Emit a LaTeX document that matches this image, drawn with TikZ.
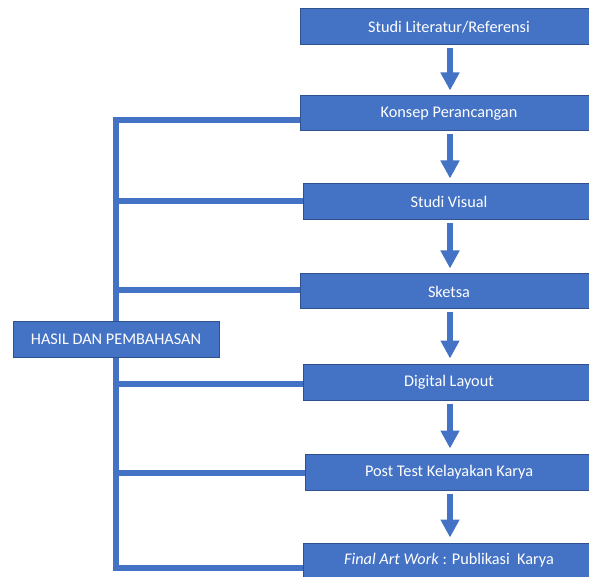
\documentclass[tikz,border=0pt]{standalone}
\usepackage{fontspec}
\setmainfont{Carlito}
\usetikzlibrary{arrows.meta}
\definecolor{officeblue}{HTML}{4472C4}
\definecolor{officeborder}{HTML}{2F528F}
\tikzset{
  stepbox/.style={rectangle, fill=officeblue, draw=officeborder, line width=0.75pt,
    text=white, font=\fontsize{12.2}{14}\selectfont, inner sep=0pt, anchor=center},
  bracketline/.style={draw=officeblue, line width=4.5pt, line join=miter},
  flowarrow/.style={draw=officeblue, line width=4.5pt,
    -{Triangle[width=13.5pt, length=13.5pt]}, fill=officeblue}
}
\begin{document}
\begin{tikzpicture}[x=0.75pt, y=-0.75pt]
\clip (0,0) rectangle (589,577);
\fill[white] (0,0) rectangle (589,577);
% flow boxes
\node[stepbox, minimum width=223.5pt, minimum height=27pt]    (b1) at (449,27)    {Studi Literatur/Referensi};
\node[stepbox, minimum width=223.5pt, minimum height=26.25pt] (b2) at (449,113.5) {Konsep Perancangan};
\node[stepbox, minimum width=219pt,   minimum height=27pt]    (b3) at (449,202)   {Studi Visual};
\node[stepbox, minimum width=223.5pt, minimum height=26.25pt] (b4) at (449,291.5) {Sketsa};
\node[stepbox, minimum width=219pt,   minimum height=27pt]    (b5) at (449,382)   {Digital Layout};
\node[stepbox, minimum width=216pt,   minimum height=27pt]    (b6) at (449,472)   {Post Test Kelayakan Karya};
\node[stepbox, minimum width=219pt,   minimum height=26.25pt] (b7) at (449,560.5) {\textit{Final Art Work} : Publikasi\ \ Karya};
% bracket coordinates
\coordinate (h2) at (116,120);
\coordinate (h3) at (116,201);
\coordinate (h4) at (116,290.5);
\coordinate (h5) at (116,384);
\coordinate (h6) at (116,473);
\coordinate (h7) at (116,568);
\draw[bracketline] (b2.west |- h2) -- (h2) -- (h7) -- (b7.west |- h7);
\draw[bracketline] (h3) -- (b3.west |- h3);
\draw[bracketline] (h4) -- (b4.west |- h4);
\draw[bracketline] (h5) -- (b5.west |- h5);
\draw[bracketline] (h6) -- (b6.west |- h6);
% left box
\node[stepbox, minimum width=154.5pt, minimum height=26.25pt] (hasil) at (116,339.5) {HASIL DAN PEMBAHASAN};
% arrows
\draw[flowarrow] ([shift={(1,3)}]b1.south) -- ([shift={(1,-5)}]b2.north);
\draw[flowarrow] ([shift={(1,3)}]b2.south) -- ([shift={(1,-5)}]b3.north);
\draw[flowarrow] ([shift={(1,3)}]b3.south) -- ([shift={(1,-5)}]b4.north);
\draw[flowarrow] ([shift={(1,3)}]b4.south) -- ([shift={(1,-5)}]b5.north);
\draw[flowarrow] ([shift={(1,3)}]b5.south) -- ([shift={(1,-5)}]b6.north);
\draw[flowarrow] ([shift={(1,3)}]b6.south) -- ([shift={(1,-5)}]b7.north);
\end{tikzpicture}
\end{document}
